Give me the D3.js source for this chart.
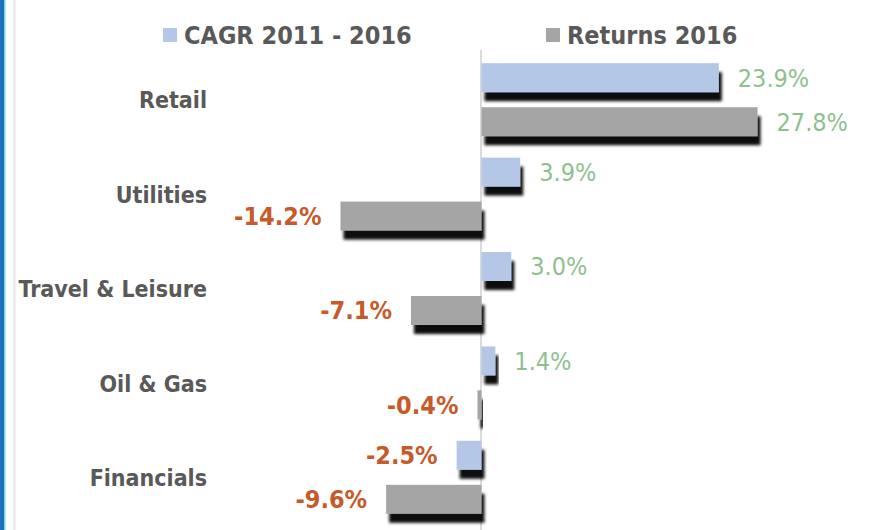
<!DOCTYPE html>
<html>
<head>
<meta charset="utf-8">
<script src="https://cdn.jsdelivr.net/npm/d3@7"></script>
<style>
  body { margin: 0; background: #fff; }
  svg { display: block; }
  .txt { font-family: "Liberation Sans Narrow", "DejaVu Sans Condensed", "Open Sans", sans-serif; }
</style>
</head>
<body>
<div id="chart"></div>
<script>
const categories = ["Retail", "Utilities", "Travel & Leisure", "Oil & Gas", "Financials"];
const seriesNames = ["CAGR 2011 - 2016", "Returns 2016"];
const cagr = [23.9, 3.9, 3.0, 1.4, -2.5];
const returns2016 = [27.8, -14.2, -7.1, -0.4, -9.6];

const width = 879, height = 530;
const colors = ["#b4c7e7", "#a5a5a5"];

const svg = d3.select("#chart").append("svg")
  .attr("width", width)
  .attr("height", height);

// drop shadow like the excel preset
const defs = svg.append("defs");
const f = defs.append("filter").attr("id", "shadow")
  .attr("x", "-20%").attr("y", "-20%").attr("width", "140%").attr("height", "160%");
f.append("feDropShadow")
  .attr("dx", 3).attr("dy", 9).attr("stdDeviation", 1.8)
  .attr("flood-color", "#000").attr("flood-opacity", 0.95);

// left frame
svg.append("rect").attr("x", 0).attr("y", 0).attr("width", 5).attr("height", height).attr("fill", "#1b74b9");
svg.append("rect").attr("x", 4).attr("y", 0).attr("width", 1.5).attr("height", height).attr("fill", "#7fd0f0");
svg.append("rect").attr("x", 13.5).attr("y", 0).attr("width", 2).attr("height", height).attr("fill", "#e4e4e4");

const x = d3.scaleLinear().domain([-15, 30]).range([332.5, 779.4]);
const y = d3.scaleBand().domain(categories).range([53, 525]);
const bw = y.bandwidth();
const ySub = d3.scaleBand().domain(seriesNames)
  .range([bw / 2 - 37, bw / 2 + 36]).paddingInner(15 / 44);

const data = categories.map((c, i) => ({
  cat: c,
  vals: [
    { s: seriesNames[0], v: cagr[i] },
    { s: seriesNames[1], v: returns2016[i] }
  ]
}));

// zero axis
svg.append("line")
  .attr("x1", x(0) - 0.5).attr("x2", x(0) - 0.5)
  .attr("y1", 50).attr("y2", height)
  .attr("stroke", "#d0d0d0").attr("stroke-width", 1.5);

const groups = svg.append("g").selectAll("g")
  .data(data).join("g")
  .attr("transform", d => `translate(0,${y(d.cat)})`);

groups.selectAll("rect")
  .data(d => d.vals).join("rect")
  .attr("x", d => x(Math.min(0, d.v)))
  .attr("width", d => Math.abs(x(d.v) - x(0)))
  .attr("y", d => ySub(d.s))
  .attr("height", ySub.bandwidth())
  .attr("fill", (d, i) => colors[i])
  .attr("filter", "url(#shadow)");

groups.selectAll("text.val")
  .data(d => d.vals).join("text")
  .attr("class", "val txt")
  .attr("x", d => d.v >= 0 ? x(d.v) + 19 : x(d.v) - 19)
  .attr("y", d => ySub(d.s) + ySub.bandwidth() / 2)
  .attr("dy", "0.36em")
  .attr("text-anchor", d => d.v >= 0 ? "start" : "end")
  .attr("fill", d => d.v >= 0 ? "#8fbf8f" : "#c75a2a")
  .attr("font-weight", d => d.v >= 0 ? "normal" : "bold")
  .style("font-size", "25px")
  .text(d => d.v.toFixed(1) + "%");

// category labels
svg.append("g").selectAll("text")
  .data(categories).join("text")
  .attr("class", "txt")
  .attr("x", 207)
  .attr("y", d => y(d) + bw / 2)
  .attr("dy", "0.36em")
  .attr("text-anchor", "end")
  .attr("fill", "#595959")
  .attr("font-weight", "bold")
  .style("font-size", "23px")
  .text(d => d);

// legend
const legendX = [163, 546];
const legend = svg.append("g").selectAll("g")
  .data(seriesNames).join("g")
  .attr("transform", (d, i) => `translate(${legendX[i]},28)`);
legend.append("rect").attr("width", 14).attr("height", 14)
  .attr("fill", (d, i) => colors[i]);
legend.append("text")
  .attr("class", "txt")
  .attr("x", 21).attr("y", 7).attr("dy", "0.36em")
  .attr("fill", "#595959")
  .attr("font-weight", "bold")
  .style("font-size", "25px")
  .text(d => d);
</script>
</body>
</html>
